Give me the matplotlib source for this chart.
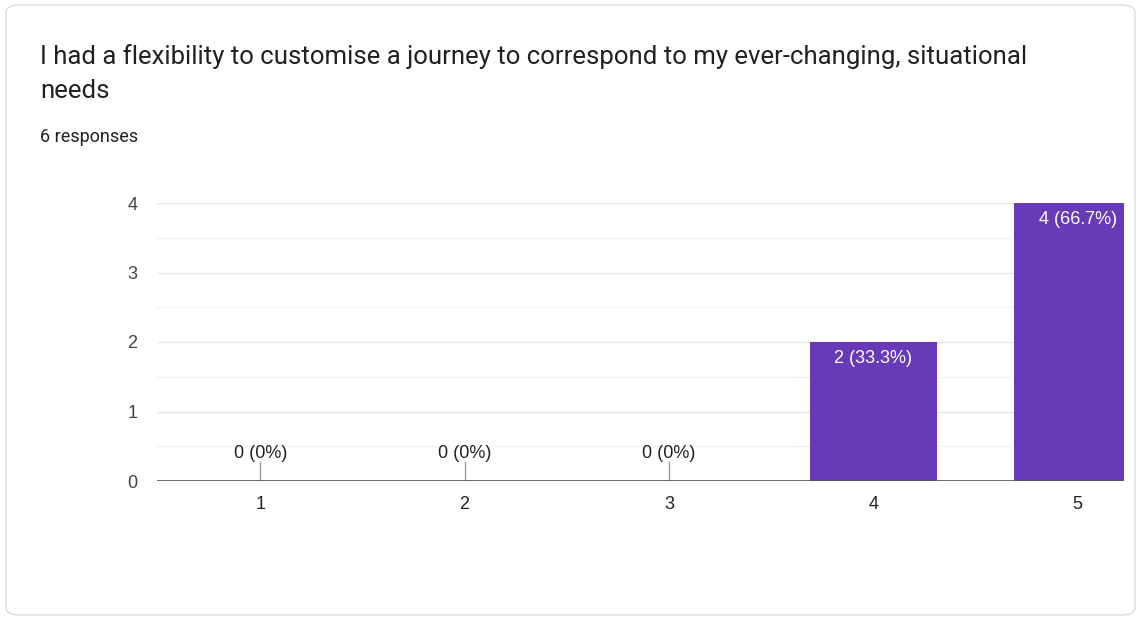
import matplotlib
matplotlib.use("Agg")
import matplotlib.pyplot as plt
from matplotlib.patches import FancyBboxPatch
from matplotlib.ticker import MultipleLocator

title_line1 = "I had a flexibility to customise a journey to correspond to my ever-changing, situational"
title_line2 = "needs"
subtitle = "6 responses"

categories = ["1", "2", "3", "4", "5"]
counts = [0, 0, 0, 2, 4]
total = sum(counts)

purple = "#673ab7"

fig = plt.figure(figsize=(11.42, 6.19), dpi=100)
fig.patch.set_facecolor("white")

# card outline
card = FancyBboxPatch((6 / 1142, 4 / 619), 1129 / 1142, 610 / 619,
                      boxstyle="round,pad=0,rounding_size=0.012",
                      transform=fig.transFigure, facecolor="none",
                      edgecolor="#dadce0", linewidth=1.0, zorder=-10)
fig.patches.append(card)

fig.text(40 / 1142, 1 - 57 / 619, title_line1, fontsize=18.55, family="Roboto",
         color="#202124", va="center", ha="left")
fig.text(40 / 1142, 1 - 91 / 619, title_line2, fontsize=18.55, family="Roboto",
         color="#202124", va="center", ha="left")
fig.text(40 / 1142, 1 - 137 / 619, subtitle, fontsize=13, family="Roboto",
         color="#202124", va="center", ha="left")

ax = fig.add_axes([157 / 1142, (619 - 481) / 619, 967 / 1142, 278 / 619])
ax.set_facecolor("none")
x = list(range(1, len(categories) + 1))

ax.set_xlim(0.495, 5.226)
ax.set_ylim(0, 4)

ax.yaxis.set_major_locator(MultipleLocator(1))
ax.yaxis.set_minor_locator(MultipleLocator(0.5))
ax.grid(axis="y", which="major", color="#e6e6e6", linewidth=1.0, zorder=0)
ax.grid(axis="y", which="minor", color="#f3f3f3", linewidth=1.0, zorder=0)
ax.set_axisbelow(True)

bars = ax.bar(x, counts, width=0.62, color=purple, zorder=2, clip_on=True)

for xi, c in zip(x, counts):
    label = f"{c} ({c / total * 100:.1f}%)" if c else f"{c} (0%)"
    if c == 0:
        ax.plot([xi, xi], [0, 0.27], color="#9e9e9e", linewidth=1.0, zorder=3)
        ax.text(xi, 0.4, label, ha="center", va="center", fontsize=13,
                family="Liberation Sans", color="#222222")
    else:
        ax.annotate(label, (xi, c), xytext=(0, -12), textcoords="offset points",
                    ha="center", va="center", fontsize=13,
                    family="Liberation Sans", color="white", zorder=4)

ax.axhline(0, color="#555555", linewidth=1.2, zorder=3)

for s in ax.spines.values():
    s.set_visible(False)

ax.set_xticks(x)
ax.set_xticklabels(categories)
ax.tick_params(axis="x", length=0, pad=11, labelsize=13, labelcolor="#222222")
ax.tick_params(axis="y", which="both", length=0, pad=14, labelsize=13,
               labelcolor="#444444")
for t in ax.get_xticklabels() + ax.get_yticklabels():
    t.set_family("Liberation Sans")

fig.savefig("out.png", dpi=100)
